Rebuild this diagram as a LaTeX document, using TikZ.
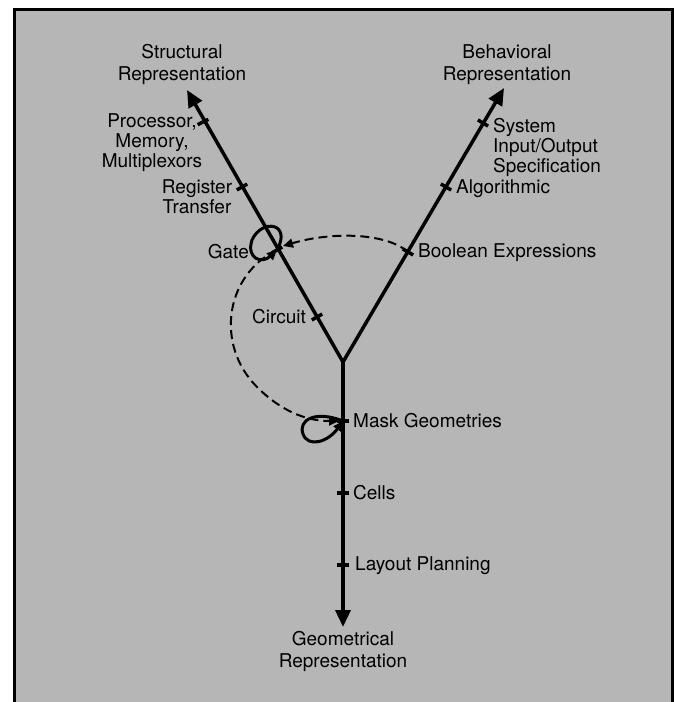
\documentclass[tikz,border=0pt]{standalone}
\usepackage{fontspec}
\setmainfont{TeX Gyre Heros}
\usetikzlibrary{arrows.meta,calc}
\definecolor{paper}{RGB}{182,182,182}
\begin{document}
\begin{tikzpicture}[x=1pt,y=-1pt,
  axis/.style={line width=3.5pt,-{Triangle[length=17pt,width=15pt]}},
  tickmark/.style={line width=3.5pt},
  lbl/.style={inner sep=0pt,font=\fontsize{19}{20}\selectfont},
  head/.style={inner sep=0pt,align=center,font=\fontsize{19}{22}\selectfont},
  dashlink/.style={line width=2pt,dash pattern=on 9pt off 5pt,-{Triangle[length=10pt,width=9pt]}},
  selfloop/.style={line width=3pt,-{Triangle[length=10pt,width=9pt]}}]
\useasboundingbox (0,0) rectangle (676,702);
% panel
\fill[white] (0,0) rectangle (676,702);
\fill[paper] (14,9) rectangle (672,712);
\draw[line width=3pt] (14,712) -- (14,9) -- (672,9) -- (672,712);

% the three axes of the Y
\coordinate (J) at (343,362);
\coordinate (ST) at (187,90);
\coordinate (BT) at (504,88);
\coordinate (GT) at (343,627);
\draw[axis] (J) -- (ST);
\draw[axis] (J) -- (BT);
\draw[axis] (J) -- (GT);

% levels on each axis
\coordinate (proc) at (203,122);
\coordinate (reg) at (242,187);
\coordinate (gate) at (277,250);
\coordinate (circ) at (317,317);
\coordinate (sys) at (483,123);
\coordinate (alg) at (446,187);
\coordinate (bool) at (408,252);
\coordinate (mask) at (343,421);
\coordinate (cells) at (343,493);
\coordinate (layout) at (343,565);

\foreach \p in {proc,reg,gate,circ}
  \draw[tickmark] ($(\p)!6pt!90:(ST)$) -- ($(\p)!6pt!-90:(ST)$);
\foreach \p in {sys,alg,bool}
  \draw[tickmark] ($(\p)!6pt!90:(BT)$) -- ($(\p)!6pt!-90:(BT)$);
\foreach \p in {mask,cells,layout}
  \draw[tickmark] ($(\p)!6pt!90:(GT)$) -- ($(\p)!6pt!-90:(GT)$);

% axis titles
\node[head] (sthead) at (182,64) {Structural\\Representation};
\node[head] (bhhead) at (507,65) {Behavioral\\Representation};
\node[head] (gehead) at (343,651) {Geometrical\\Representation};

% level labels
\node[lbl,align=center] (proclbl) at (152,143) {Processor,\\Memory,\\Multiplexors};
\node[lbl,align=center] (reglbl) at (197,197) {Register\\Transfer};
\node[lbl,anchor=east] (gatelbl) at (249,252) {Gate};
\node[lbl,anchor=east] (circlbl) at (306,317) {Circuit};
\node[lbl,align=left,anchor=west] (syslbl) at (493,147) {System\\Input/Output\\Specification};
\node[lbl,anchor=west] (alglbl) at (456,189) {Algorithmic};
\node[lbl,anchor=west] (boollbl) at (418,253) {Boolean Expressions};
\node[lbl,anchor=west] (masklbl) at (353,421) {Mask Geometries};
\node[lbl,anchor=west] (cellslbl) at (353,493) {Cells};
\node[lbl,anchor=west] (layoutlbl) at (355,566) {Layout Planning};

% transformations between domains
\draw[dashlink] (bool) .. controls (385,232) and (330,232) .. ([shift={(6,-4)}]gate);
\draw[dashlink] (gate) .. controls (225,275) and (215,345) .. (257,387)
  .. controls (280,410) and (305,421) .. ([shift={(-4,0)}]mask);

% refinement within a domain
\draw[selfloop] (gate) .. controls (292,223) and (262,218) .. (252,240)
  .. controls (246,259) and (262,264) .. (gate);
\draw[selfloop] (mask) .. controls (315,410) and (298,420) .. (303,434)
  .. controls (308,448) and (328,442) .. (mask);
\end{tikzpicture}
\end{document}
